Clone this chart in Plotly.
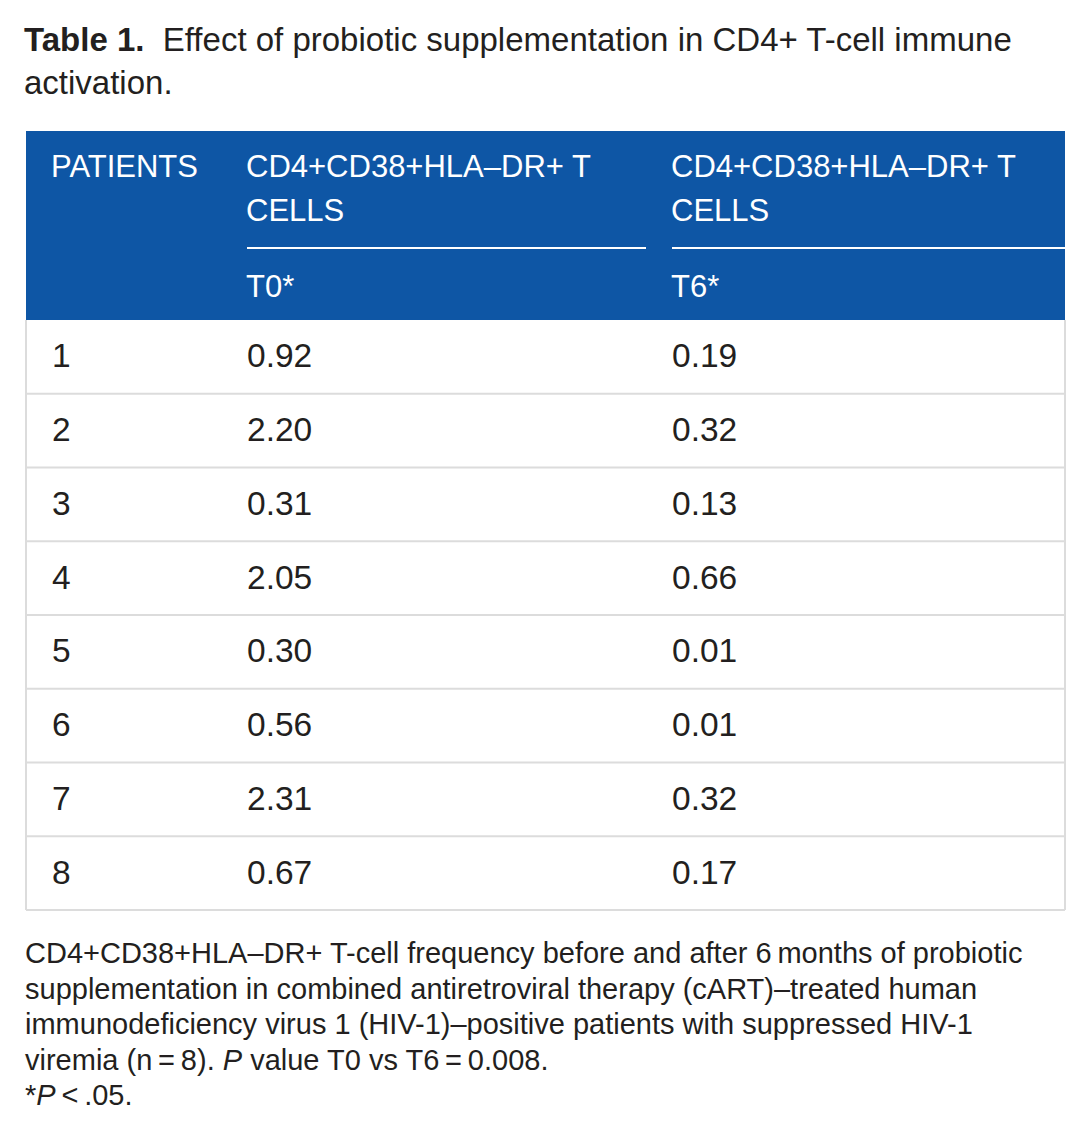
import plotly.graph_objects as go

# ---- data ----
patients = ["1", "2", "3", "4", "5", "6", "7", "8"]
t0_values = [0.92, 2.20, 0.31, 2.05, 0.30, 0.56, 2.31, 0.67]
t6_values = [0.19, 0.32, 0.13, 0.66, 0.01, 0.01, 0.32, 0.17]
col_headers = ["PATIENTS", "CD4+CD38+HLA\u2013DR+ T", "CD4+CD38+HLA\u2013DR+ T"]
col_headers2 = ["", "CELLS", "CELLS"]
sub_headers = ["", "T0*", "T6*"]
title_lines = ["<b>Table 1.</b>  Effect of probiotic supplementation in CD4+ T-cell immune",
               "activation."]
foot_lines = [
    "CD4+CD38+HLA\u2013DR+ T-cell frequency before and after 6\u2009months of probiotic",
    "supplementation in combined antiretroviral therapy (cART)\u2013treated human",
    "immunodeficiency virus 1 (HIV-1)\u2013positive patients with suppressed HIV-1",
    "viremia (n\u2009=\u20098). <i>P</i> value T0 vs T6\u2009=\u20090.008.",
    "*<i>P</i>\u2009<\u2009.05.",
]

# ---- layout constants ----
W, H = 1091, 1130
FONT = "Liberation Sans, Arial, Helvetica, sans-serif"
TXT = "#231f20"
BLUE = "#0e56a5"
GRID = "#dcdcdc"
left, right = 26, 1065
col_x = [52, 247, 672]
col_line = [(247, 646), (672, 1065)]
head_top, head_bot = 131, 320
row_h = (910 - 320) / 8
rows_y = [head_bot + row_h * (i + 0.5) + 2 for i in range(len(patients))]

fig = go.Figure()

columns = [patients, [f"{v:.2f}" for v in t0_values], [f"{v:.2f}" for v in t6_values]]
for cx, vals in zip(col_x, columns):
    fig.add_trace(go.Scatter(
        x=[cx] * len(vals), y=rows_y, text=vals, mode="text",
        textposition="middle right", hoverinfo="skip", showlegend=False,
        textfont=dict(family=FONT, size=33.5, color=TXT)))

shapes = []
# header block
shapes.append(dict(type="rect", x0=left, x1=right, y0=head_top, y1=head_bot,
                   fillcolor=BLUE, line=dict(width=0), layer="below"))
# header underlines
for x0, x1 in col_line:
    shapes.append(dict(type="line", x0=x0, x1=x1, y0=248, y1=248,
                       line=dict(color="white", width=2)))
# row separators
for i in range(1, len(patients) + 1):
    y = head_bot + row_h * i
    shapes.append(dict(type="line", x0=left, x1=right, y0=y, y1=y,
                       line=dict(color=GRID, width=2)))
# outer side borders
for x in (left, right):
    shapes.append(dict(type="line", x0=x, x1=x, y0=head_bot, y1=head_bot + row_h * len(patients),
                       line=dict(color=GRID, width=2)))

ann = []
def add_text(x, y, text, size, color=TXT):
    ann.append(dict(x=x, y=y, xref="x", yref="y", text=text, showarrow=False,
                    xanchor="left", yanchor="middle", borderpad=0,
                    font=dict(family=FONT, size=size, color=color)))

add_text(23, 39, title_lines[0], 33)
add_text(23, 82, title_lines[1], 33)
for cx, h1, h2, sh in zip(col_x, col_headers, col_headers2, sub_headers):
    add_text(cx - 2, 166, h1, 31, "white")
    if h2:
        add_text(cx - 2, 210, h2, 31, "white")
    if sh:
        add_text(cx - 2, 286, sh, 31, "white")
for i, line in enumerate(foot_lines):
    add_text(24, 953 + i * 35.5, line, 29)

fig.update_layout(
    width=W, height=H, margin=dict(l=0, r=0, t=0, b=0),
    paper_bgcolor="white", plot_bgcolor="white",
    xaxis=dict(range=[0, W], visible=False, fixedrange=True),
    yaxis=dict(range=[H, 0], visible=False, fixedrange=True),
    shapes=shapes, annotations=ann,
)

fig.write_html("out.html", config={"displayModeBar": False},
               post_script="document.body.style.margin='0';document.body.style.overflow='hidden';")
